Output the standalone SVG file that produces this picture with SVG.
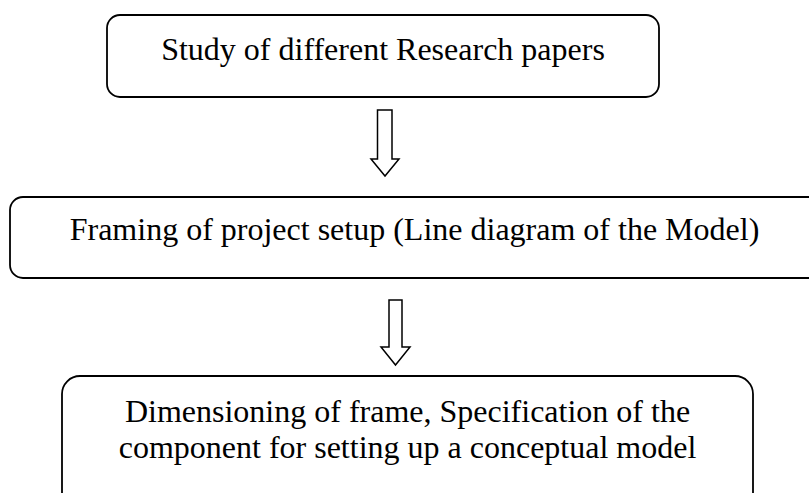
<svg xmlns="http://www.w3.org/2000/svg" width="809" height="493" viewBox="0 0 809 493">
<style>
.box{fill:#fff;stroke:#000;stroke-width:1.8}
.arr{fill:#fff;stroke:#000;stroke-width:1.5;stroke-linejoin:miter}
.t{font-family:"Liberation Serif","Times New Roman",serif;font-size:32px;fill:#000;text-anchor:middle}
</style>
<rect width="809" height="493" fill="#fff"/>
<g id="connectors">
<polygon class="arr" points="377.5,110 392,110 392,159 399,159 385,176 371,159 377.5,159"/>
<polygon class="arr" points="389,300 402,300 402,347 410,347 395.5,365 381,347 389,347"/>
</g>
<g id="node1">
<rect class="box" x="107" y="15" width="552" height="82" rx="13"/>
<text class="t" x="383" y="60">Study of different Research papers</text>
</g>
<g id="node2">
<rect class="box" x="10" y="197" width="830" height="81" rx="13"/>
<text class="t" x="414.5" y="240">Framing of project setup (Line diagram of the Model)</text>
</g>
<g id="node3">
<rect class="box" x="62" y="376" width="691" height="150" rx="18"/>
<text class="t" x="407.5" y="422">Dimensioning of frame, Specification of the</text>
<text class="t" x="407.5" y="458">component for setting up a conceptual model</text>
</g>
</svg>
